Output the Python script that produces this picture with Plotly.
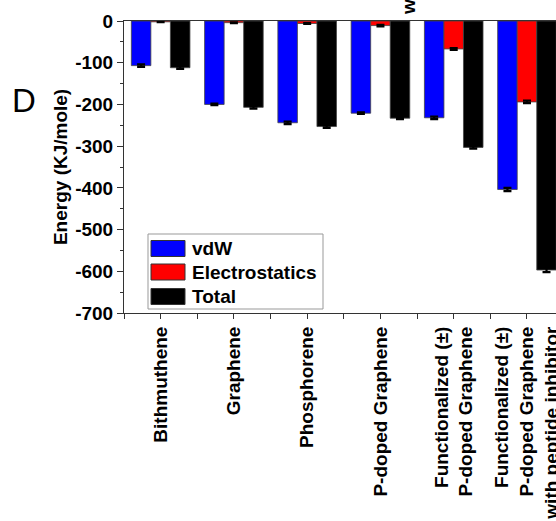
import plotly.graph_objects as go

# Interaction energies (kJ/mol) per substrate
categories = [
    "Bithmuthene",
    "Graphene",
    "Phosphorene",
    "P-doped Graphene",
    "Functionalized (±)<br>P-doped Graphene",
    "Functionalized (±)<br>P-doped Graphene<br>with peptide inhibitor",
]
series_names = ["vdW", "Electrostatics", "Total"]
vdw = [-107, -200, -244, -221, -232, -404]
electrostatics = [-2, -4, -6, -11, -67, -194]
total = [-112, -207, -253, -233, -303, -597]
vdw_err = [3, 2, 3, 2, 3, 4]
elec_err = [1, 1, 1, 2, 2, 3]
total_err = [3, 3, 3, 2, 3, 5]
colors = ["#0000FF", "#FF0000", "#000000"]
y_ticks = [0, -100, -200, -300, -400, -500, -600, -700]

FONT = "Liberation Sans, Arial, sans-serif"
x_pos = list(range(len(categories)))

fig = go.Figure()
for name, vals, errs, col in zip(series_names, [vdw, electrostatics, total],
                                 [vdw_err, elec_err, total_err], colors):
    fig.add_trace(go.Bar(
        x=x_pos, y=vals, name=name,
        marker=dict(color=col, line=dict(color="#444444", width=0.8)),
        error_y=dict(type="data", array=errs, color="#000000", thickness=2.2, width=4),
        showlegend=False,
    ))

# tick positions: labels at categories, blank ticks between them
tickvals, ticktext = [], []
for i, c in enumerate(categories):
    tickvals += [i - 0.5, i]
    ticktext += ["", c]
tickvals.append(len(categories) - 0.5)
ticktext.append("")

fig.update_layout(
    width=556, height=521,
    margin=dict(l=124, r=0, t=21, b=208),
    paper_bgcolor="white", plot_bgcolor="white",
    barmode="group", bargap=0.2, bargroupgap=0,
    font=dict(family=FONT, color="black"),
    xaxis=dict(
        range=[-0.5, 5.396], tickmode="array", tickvals=tickvals, ticktext=ticktext,
        tickangle=-90, ticks="outside", ticklen=5, tickwidth=1, tickcolor="#333",
        ticklabeloverflow="allow", automargin=False,
        tickfont=dict(family=FONT, size=19, weight="bold", color="black"),
        showline=True, linecolor="#333", linewidth=1, mirror=True,
        showgrid=False, zeroline=False,
    ),
    yaxis=dict(
        range=[-700, 0], tickmode="array", tickvals=y_ticks,
        ticktext=[str(v) for v in y_ticks], automargin=False,
        ticks="outside", ticklen=6, tickwidth=1, tickcolor="#333",
        tickfont=dict(family=FONT, size=19, weight="bold", color="black"),
        minor=dict(dtick=50, ticks="outside", ticklen=3, tickcolor="#333"),
        showline=True, linecolor="#333", linewidth=1, mirror=False,
        showgrid=False, zeroline=False,
    ),
)

# axis title
fig.add_annotation(
    text="Energy (KJ/mole)", xref="paper", yref="paper", x=-0.148, y=0.5,
    textangle=-90, showarrow=False, xanchor="center", yanchor="middle",
    font=dict(family=FONT, size=19, weight="bold", color="black"),
)
# panel letter
fig.add_annotation(
    text="D", xref="paper", yref="paper", x=-0.231, y=0.729,
    showarrow=False, xanchor="center", yanchor="middle",
    font=dict(family=FONT, size=33, color="black"),
)
# label from the panel above
fig.add_annotation(
    text="with peptide inhibitor", xref="paper", yref="paper", x=0.66, y=1.0137,
    textangle=-90, showarrow=False, xanchor="center", yanchor="bottom",
    font=dict(family=FONT, size=19, weight="bold", color="black"),
)

# legend box drawn in paper coordinates
def px(xp):
    return (xp - 124) / 432

def py(yp):
    return (313 - yp) / 292

fig.add_shape(type="rect", xref="paper", yref="paper",
              x0=px(148), x1=px(323), y0=py(309), y1=py(234),
              line=dict(color="#999999", width=1), fillcolor="white")
row_centers = [248.5, 272, 296.5]
for name, col, yc in zip(series_names, colors, row_centers):
    fig.add_shape(type="rect", xref="paper", yref="paper",
                  x0=px(151), x1=px(185), y0=py(yc + 8), y1=py(yc - 8),
                  line=dict(color="#333333", width=1), fillcolor=col)
    fig.add_annotation(text=name, xref="paper", yref="paper", x=px(190), y=py(yc),
                       showarrow=False, xanchor="left", yanchor="middle",
                       font=dict(family=FONT, size=19, weight="bold", color="black"))

fig.write_html("out.html")
